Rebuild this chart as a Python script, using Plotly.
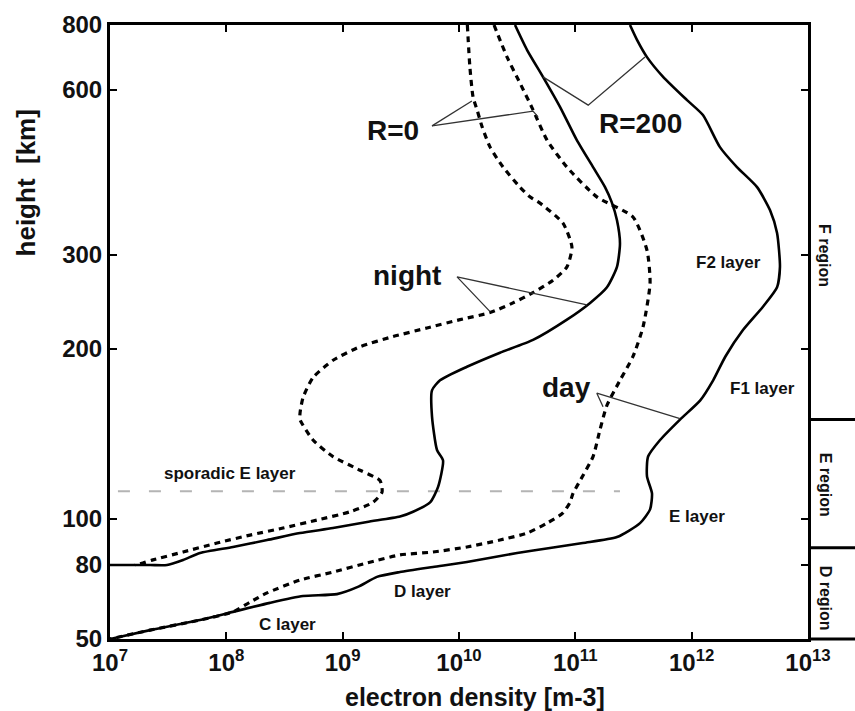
import numpy as np
import plotly.graph_objects as go

# ---------------- height axis (non-uniform scale of the original figure) ----------------
HEIGHT_TICKS = [50, 80, 100, 200, 300, 600, 800]
HEIGHT_AXIS_POS = [0, 74, 120, 290, 384, 549, 614]


def hscale(h):
    h = np.asarray(h, dtype=float)
    return np.interp(np.log10(h), np.log10(HEIGHT_TICKS), HEIGHT_AXIS_POS)


DENSITY_TICKS = [1e7, 1e8, 1e9, 1e10, 1e11, 1e12, 1e13]
DENSITY_TICK_TEXT = ["10<sup>7</sup>", "10<sup>8</sup>", "10<sup>9</sup>", "10<sup>10</sup>",
                     "10<sup>11</sup>", "10<sup>12</sup>", "10<sup>13</sup>"]

# ---------------- profiles: electron density [m-3] vs height [km] ----------------
night_r0_density = [1.18e10, 1.24e10, 1.32e10, 1.43e10, 1.58e10, 1.85e10, 2.39e10, 3.34e10, 4.07e10,
                    4.97e10, 7.83e10, 9.35e10, 8.47e10, 6.43e10, 4.33e10, 2.91e10, 1.85e10, 1.02e10,
                    5.31e9, 2.71e9, 1.41e9, 8.26e8, 5.56e8, 4.56e8, 4.30e8, 4.30e8, 5.56e8, 8.26e8,
                    1.41e9, 2.09e9, 2.18e9, 1.82e9, 1.16e9, 6.01e8, 3.07e8, 1.60e8, 8.32e7, 4.25e7,
                    2.34e7, 1.92e7, 1.64e7]
night_r0_height = [800, 665, 583, 552, 514, 472, 434, 399, 383, 373, 343, 310, 285, 269, 255, 244, 234,
                   227, 219, 211, 202, 191, 178, 164, 154, 150, 138, 129, 122, 117, 111.6, 107, 103,
                   99.5, 95.7, 92.5, 89, 85.2, 82, 80.8, 80]

night_r200_density = [3.03e10, 3.85e10, 5.27e10, 7.38e10, 1.03e11, 1.42e11, 1.80e11, 2.05e11, 2.28e11,
                      2.42e11, 2.28e11, 1.87e11, 1.34e11, 8.47e10, 4.33e10, 2.25e10, 1.17e10, 6.87e9,
                      5.86e9, 5.86e9, 6.47e9, 7.29e9, 6.61e9, 5.64e9, 4.03e9, 3.11e9, 1.62e9, 8.26e8,
                      4.30e8, 2.24e8, 1.14e8, 5.94e7, 4.25e7, 3.09e7, 2.21e7, 1.0e7]
night_r200_height = [800, 716, 636, 559, 486, 434, 399, 375, 347, 315, 285, 261, 244, 227, 208, 197,
                     186, 176, 169, 152, 132.5, 127, 114, 107, 103, 101, 98.6, 95.7, 93.4, 90.3, 87.3,
                     84.8, 82, 80, 80, 80]

day_r0_density = [2.0e10, 2.59e10, 3.34e10, 4.33e10, 5.71e10, 8.47e10, 1.53e11, 3.13e11, 4.13e11,
                  4.39e11, 3.82e11, 3.13e11, 2.42e11, 1.87e11, 1.63e11, 1.42e11, 1.10e11, 9.55e10,
                  8.99e10, 7.83e10, 5.71e10, 3.85e10, 2.25e10, 1.17e10, 5.98e9, 3.11e9, 1.62e9,
                  8.26e8, 4.30e8, 2.24e8, 1.60e8, 1.14e8, 5.94e7, 2.21e7, 1.0e7]
day_r0_height = [800, 694, 619, 552, 486, 434, 383, 352, 306, 266, 220, 194, 176, 159, 144, 129, 117,
                 111, 107, 102.5, 98, 93.4, 90.3, 87.3, 85.2, 84, 80.8, 76.5, 72.7, 67, 63.2, 59.4,
                 56.4, 52.9, 50]

day_r200_density = [2.95e11, 3.39e11, 4.13e11, 5.68e11, 9.12e11, 1.25e12, 1.75e12, 2.45e12, 3.65e12,
                    4.72e12, 5.42e12, 5.74e12, 5.42e12, 4.10e12, 2.76e12, 1.95e12, 1.53e12,
                    1.18e12, 7.94e11, 5.35e11, 4.22e11, 4.13e11, 4.56e11, 4.39e11, 3.60e11, 2.28e11,
                    1.16e11, 6.05e10, 3.16e10, 1.17e10, 5.98e9, 3.11e9, 1.97e9, 1.35e9, 8.93e8,
                    4.56e8, 2.37e8, 1.14e8, 5.94e7, 2.21e7, 1.0e7]
day_r200_height = [800, 749, 694, 636, 575, 540, 472, 434, 399, 362, 329, 285, 261, 240, 217, 194,
                   176, 162, 150, 138, 129, 119, 111, 104, 98, 91.6, 89, 86.9, 84.8, 81.2, 79, 76.5,
                   74.2, 69.6, 66.5, 65.7, 62.9, 59.4, 56.4, 52.9, 50]

# sporadic E layer marker
sporadic_e_density = [1.17e7, 2.42e11]
sporadic_e_height = [112, 112]

# leader lines (density, height); None separates segments
leader_density = [5.86e9, 1.29e10, None, 5.86e9, 4.33e10, 4.78e10, None,
                  5.27e10, 1.29e11, 3.97e11, None,
                  1.85e10, 9.62e9, 1.26e11, None,
                  1.73e11, 1.53e11, 7.94e11]
leader_height = [516, 573, None, 516, 549, 536, None,
                 636, 563, 694, None,
                 235, 273, 242, None,
                 158, 167, 150.5]

# text labels
big_labels = ["R=0", "R=200", "night", "day"]
big_label_density = [2.71e9, 3.6e11, 3.57e9, 8.47e10]
big_label_height = [507, 522, 275, 171]

layer_labels = ["F2 layer", "F1 layer", "E layer", "D layer", "C layer", "sporadic E layer"]
layer_label_density = [2.09e12, 4.03e12, 1.11e12, 4.81e9, 3.33e8, 1.08e8]
layer_label_height = [291, 170, 101, 67.8, 54.7, 120.6]

region_labels = ["F region", "E region", "D region"]
region_label_height = [300, 115, 65]
region_bounds = [150, 87]

FONT = "Liberation Sans, Arial, Helvetica, sans-serif"


def yv(hs):
    return [None if h is None else float(hscale(h)) for h in hs]


def bfont(size):
    return dict(family=FONT, size=size, color="#111", weight="bold")


fig = go.Figure()

line_solid = dict(color="black", width=2.6, shape="spline", smoothing=0.6)
line_dot = dict(color="black", width=3.2, shape="spline", smoothing=0.6, dash="6px,5px")

fig.add_trace(go.Scatter(x=sporadic_e_density, y=yv(sporadic_e_height), mode="lines",
                         line=dict(color="#b4b4b4", width=2, dash="12px,19px"), hoverinfo="skip"))
fig.add_trace(go.Scatter(x=night_r0_density, y=yv(night_r0_height), mode="lines", line=line_dot,
                         name="night R=0"))
fig.add_trace(go.Scatter(x=night_r200_density, y=yv(night_r200_height), mode="lines", line=line_solid,
                         name="night R=200"))
fig.add_trace(go.Scatter(x=day_r0_density, y=yv(day_r0_height), mode="lines", line=line_dot,
                         name="day R=0"))
fig.add_trace(go.Scatter(x=day_r200_density, y=yv(day_r200_height), mode="lines", line=line_solid,
                         name="day R=200"))
fig.add_trace(go.Scatter(x=leader_density, y=yv(leader_height), mode="lines",
                         line=dict(color="#333333", width=1.3), hoverinfo="skip", connectgaps=False))

annotations = []
for t, d, h in zip(big_labels, big_label_density, big_label_height):
    annotations.append(dict(text=t, x=float(np.log10(d)), y=float(hscale(h)), xref="x", yref="y",
                            showarrow=False, font=bfont(28), xanchor="center", yanchor="middle"))
for t, d, h in zip(layer_labels, layer_label_density, layer_label_height):
    annotations.append(dict(text=t, x=float(np.log10(d)), y=float(hscale(h)), xref="x", yref="y",
                            showarrow=False, font=bfont(17), xanchor="center", yanchor="middle"))
for t, h in zip(region_labels, region_label_height):
    annotations.append(dict(text=t, x=1.0244, y=float(hscale(h)), xref="paper", yref="y",
                            showarrow=False, textangle=90, font=bfont(16),
                            xanchor="center", yanchor="middle"))
annotations.append(dict(text="electron density [m-3]", x=0.523, y=-0.094, xref="paper", yref="paper",
                        showarrow=False, font=bfont(25), xanchor="center", yanchor="middle"))
annotations.append(dict(text="height  [km]", x=-0.1203, y=0.742, xref="paper", yref="paper",
                        showarrow=False, textangle=-90, font=bfont(26),
                        xanchor="center", yanchor="middle"))

shapes = []
for b in region_bounds:
    shapes.append(dict(type="line", xref="paper", yref="y", x0=1.0, x1=1.07, y0=float(hscale(b)),
                       y1=float(hscale(b)), line=dict(color="black", width=3)))
shapes.append(dict(type="line", xref="paper", yref="paper", x0=1.0, x1=1.07, y0=0, y1=0,
                   line=dict(color="black", width=3)))

fig.update_layout(
    width=855, height=711,
    margin=dict(l=110, r=47, t=25, b=72),
    paper_bgcolor="white", plot_bgcolor="white",
    showlegend=False,
    annotations=annotations,
    shapes=shapes,
    font=dict(family=FONT, color="#111"),
)
fig.update_xaxes(type="log", range=[7, 13], tickvals=DENSITY_TICKS, ticktext=DENSITY_TICK_TEXT,
                 tickfont=bfont(24),
                 showline=True, linecolor="black", linewidth=3, mirror="ticks",
                 ticks="inside", ticklen=7, tickwidth=2, tickcolor="black",
                 showgrid=False, zeroline=False)
fig.update_yaxes(range=[0, 614], tickvals=HEIGHT_AXIS_POS,
                 ticktext=[str(h) for h in HEIGHT_TICKS],
                 tickfont=bfont(24),
                 showline=True, linecolor="black", linewidth=3, mirror="ticks",
                 ticks="inside", ticklen=7, tickwidth=2, tickcolor="black",
                 showgrid=False, zeroline=False)

fig.write_html("out.html")
